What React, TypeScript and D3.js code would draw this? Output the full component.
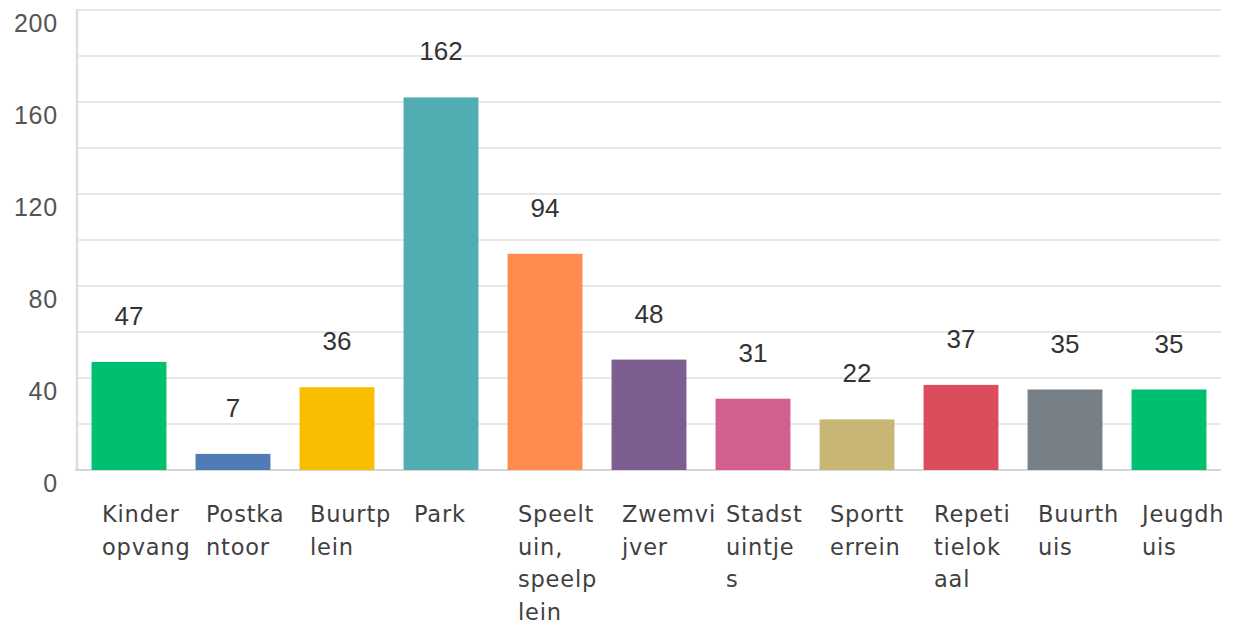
import React from "react";
import * as d3 from "d3";

const categories = [
  "Kinderopvang",
  "Postkantoor",
  "Buurtplein",
  "Park",
  "Speeltuin, speelplein",
  "Zwemvijver",
  "Stadstuintjes",
  "Sportterrein",
  "Repetitielokaal",
  "Buurthuis",
  "Jeugdhuis",
];
const values = [47, 7, 36, 162, 94, 48, 31, 22, 37, 35, 35];
const colors = [
  "#00BF6F",
  "#507CB6",
  "#F9BE00",
  "#52ADB2",
  "#FF8B4F",
  "#7D5E90",
  "#D25F90",
  "#C8B774",
  "#DB4D5C",
  "#768086",
  "#00BF6F",
];
const yTicks = [0, 40, 80, 120, 160, 200];
const gridValues = d3.range(0, 201, 20);

const W = 1237;
const H = 625;
const left = 77;
const right = 1221;
const top = 10;
const bottom = 470;

function wrapLabel(s: string, n: number): string[] {
  const out: string[] = [];
  s.split(" ").forEach((w) => {
    for (let i = 0; i < w.length; i += n) out.push(w.slice(i, i + n));
  });
  return out;
}

export default function App() {
  const x = d3
    .scaleBand<string>()
    .domain(categories)
    .range([left, right])
    .paddingInner(0.28)
    .paddingOuter(0.14);
  const y = d3.scaleLinear().domain([0, 200]).range([bottom, top]);
  const step = x.step();

  return (
    <svg
      width={W}
      height={H}
      style={{ position: "absolute", left: 0, top: 0, background: "#fff" }}
    >
      <defs>
        <clipPath id="lblclip">
          <rect x={0} y={480} width={1222} height={145} />
        </clipPath>
      </defs>
      {gridValues.map((v) => (
        <line
          key={v}
          x1={left}
          x2={right}
          y1={y(v)}
          y2={y(v)}
          stroke="#e8e8e8"
          strokeWidth={2}
        />
      ))}
      <line x1={left} x2={left} y1={top - 1} y2={bottom} stroke="#dedede" strokeWidth={2.5} />
      <line x1={left - 2} x2={right} y1={bottom} y2={bottom} stroke="#d6d6d6" strokeWidth={2} />
      {yTicks.map((v) => (
        <text
          key={v}
          x={58}
          y={y(v) + 22}
          textAnchor="end"
          fontFamily="Liberation Sans, Arial, sans-serif"
          fontSize={25}
          letterSpacing={0.8}
          fill="#555"
        >
          {v}
        </text>
      ))}
      {categories.map((c, i) => (
        <rect
          key={c}
          x={x(c)}
          y={y(values[i])}
          width={x.bandwidth()}
          height={y(0) - y(values[i])}
          fill={colors[i]}
        />
      ))}
      {categories.map((c, i) => (
        <text
          key={c}
          x={(x(c) as number) + x.bandwidth() / 2}
          y={y(values[i]) - 37}
          textAnchor="middle"
          fontFamily="Liberation Sans, Arial, sans-serif"
          fontSize={26}
          fill="#333"
        >
          {values[i]}
        </text>
      ))}
      <g clipPath="url(#lblclip)">
        {categories.map((c, i) => (
          <text
            key={c}
            x={(x(c) as number) - step * 0.14 + 25}
            y={522}
            fontFamily="DejaVu Sans, sans-serif"
            fontSize={22.5}
            letterSpacing={0.8}
            fill="#3f3f3f"
          >
            {wrapLabel(c, 6).map((l, j) => (
              <tspan key={j} x={(x(c) as number) - step * 0.14 + 25} dy={j === 0 ? 0 : 32.5}>
                {l}
              </tspan>
            ))}
          </text>
        ))}
      </g>
    </svg>
  );
}
